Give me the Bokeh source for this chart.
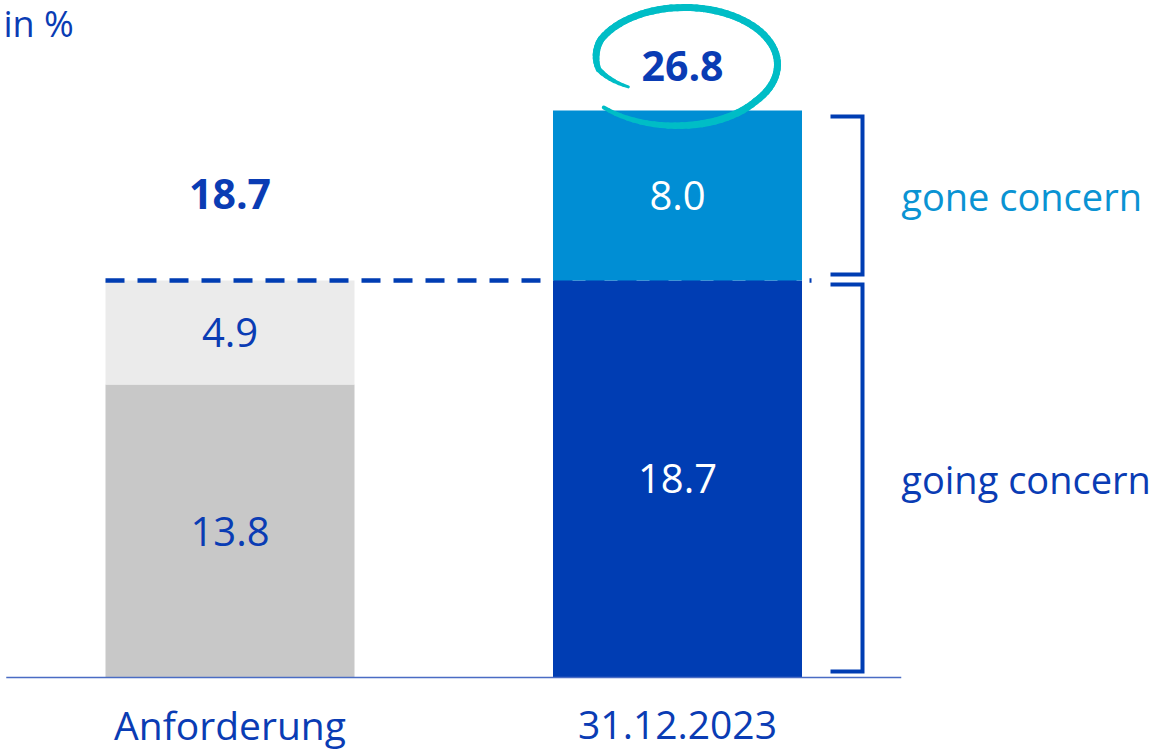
import numpy as np
from bokeh.plotting import figure
from bokeh.models import Range1d
from bokeh.core.properties import value
from bokeh.embed import file_html
from bokeh.resources import INLINE

# ---- data ----
categories = ["Anforderung", "31.12.2023"]
going_concern = [13.8, 18.7]      # lower segment
gone_concern = [4.9, 8.0]         # upper segment
totals = [18.7, 26.8]
segment_names = ["going concern", "gone concern"]
unit_label = "in %"

# ---- style ----
FONT = value("Open Sans")
DARK = "#0A3CB4"
BAR_DARK = "#003DB3"
BAR_LIGHT = "#008ED4"
LIGHT_TXT = "#0A93D3"
GRAY_LIGHT = "#EBEBEB"
GRAY = "#C8C8C8"
TEAL = "#00BDC6"
lower_colors = [GRAY, BAR_DARK]
upper_colors = [GRAY_LIGHT, BAR_LIGHT]
lower_text_colors = [DARK, "white"]
upper_text_colors = [DARK, "white"]

W, H = 1159, 751
PX_X = 447.5                 # px per category unit
PX_Y = 569.0 / 26.8          # px per percent
BAR_W = 249 / PX_X
X0_PX = 229.5                # canvas px of first category
BASE_PX = 74                 # baseline distance from canvas bottom
TXT_FIX = 13 / PX_Y          # renderer places alphabetic baseline lower; compensate

p = figure(width=W, height=H, output_backend="svg", toolbar_location=None,
           x_range=Range1d(-X0_PX / PX_X, (W - X0_PX) / PX_X),
           y_range=Range1d(-BASE_PX / PX_Y, (H - BASE_PX) / PX_Y),
           x_axis_type=None, y_axis_type=None, min_border=0,
           outline_line_color=None, background_fill_color="white",
           border_fill_color="white")
p.grid.visible = False

xs = list(range(len(categories)))
low = np.array(going_concern)
up = np.array(gone_concern)
tops = low + up

# requirement bar (first category)
p.vbar(x=[xs[0]], bottom=0, top=[low[0]], width=BAR_W, fill_color=lower_colors[0], line_color=None)
p.vbar(x=[xs[0]], bottom=[low[0]], top=[tops[0]], width=BAR_W, fill_color=upper_colors[0], line_color=None)

# dashed requirement line
req = totals[0]
p.line(x=[0 - BAR_W / 2, 1 + 134 / PX_X], y=[req, req], line_color=BAR_DARK,
       line_width=4.5, line_dash="19 13")

# actual bar (second category), drawn over the dashed line
p.vbar(x=[xs[1]], bottom=0, top=[low[1]], width=BAR_W, fill_color=lower_colors[1], line_color=None)
p.vbar(x=[xs[1]], bottom=[low[1]], top=[tops[1]], width=BAR_W, fill_color=upper_colors[1], line_color=None)

# baseline
p.line(x=[-0.5, len(categories) - 0.5], y=[0, 0], line_color="#4A6CC4", line_width=1.5)

# segment labels
dy_txt = 13 / PX_Y - TXT_FIX
p.text(x=xs, y=list(low / 2 - dy_txt), text=[f"{v:.1f}" for v in going_concern],
       text_color=lower_text_colors, text_font=FONT, text_font_size="40px",
       text_align="center", text_baseline="alphabetic")
p.text(x=xs, y=list(low + up / 2 - dy_txt), text=[f"{v:.1f}" for v in gone_concern],
       text_color=upper_text_colors, text_font=FONT, text_font_size="40px",
       text_align="center", text_baseline="alphabetic")

# totals (bold)
tot_off_px = [73, 30]
tot_dx_px = [0, 5]
p.text(x=[xs[i] + tot_dx_px[i] / PX_X for i in xs],
       y=[totals[i] + tot_off_px[i] / PX_Y + TXT_FIX for i in xs],
       text=[f"{v:.1f}" for v in totals], text_color=DARK, text_font=FONT,
       text_font_size="41px", text_font_style="bold", text_align="center",
       text_baseline="alphabetic")

# hand-drawn ellipse around the latest total
cx = 1 + 7 / PX_X
cy = totals[1] + 44 / PX_Y
th_deg = np.linspace(147, 499, 90)
r = np.interp(th_deg, [147, 175, 205, 400, 450, 499], [0.72, 0.93, 1.0, 1.0, 1.07, 1.15])
th = np.radians(th_deg)
ex = cx + 93 * r * np.cos(th) / PX_X
ey = cy - 57 * r * np.sin(th) / PX_Y
frac = np.linspace(0, 1, len(th) - 1)
widths = np.interp(frac, [0, 0.12, 0.85, 1], [3, 7, 7, 4])
p.multi_line(xs=[[ex[i], ex[i + 1]] for i in range(len(ex) - 1)],
             ys=[[ey[i], ey[i + 1]] for i in range(len(ey) - 1)],
             line_color=TEAL, line_width=list(widths), line_cap="round")

# brackets for the latest bar
bx0 = 1 + 153 / PX_X
bx1 = 1 + 185 / PX_X
spans = [(0 + 6 / PX_Y, low[1] - 4 / PX_Y), (low[1] + 6 / PX_Y, tops[1] - 6 / PX_Y)]
for b, t in spans:
    p.line(x=[bx0, bx1, bx1, bx0], y=[t, t, b, b], line_color=BAR_DARK,
           line_width=4, line_join="miter")

# right-side segment names
p.text(x=[1.5, 1.5], y=[low[1] / 2 - dy_txt, low[1] + up[1] / 2 - dy_txt],
       text=segment_names, text_color=[DARK, LIGHT_TXT], text_font=FONT,
       text_font_size="38px", text_align="left", text_baseline="alphabetic")

# category labels
p.text(x=xs, y=[-60 / PX_Y + TXT_FIX] * len(xs), text=categories, text_color=DARK,
       text_font=FONT, text_font_size="39px", text_align="center",
       text_baseline="alphabetic")

# unit label
p.text(x=[-(X0_PX - 3) / PX_X], y=[(677 - 36) / PX_Y + TXT_FIX], text=[unit_label],
       text_color=DARK, text_font=FONT, text_font_size="36px", text_align="left",
       text_baseline="alphabetic")

open("out.html", "w").write(file_html(p, INLINE))
